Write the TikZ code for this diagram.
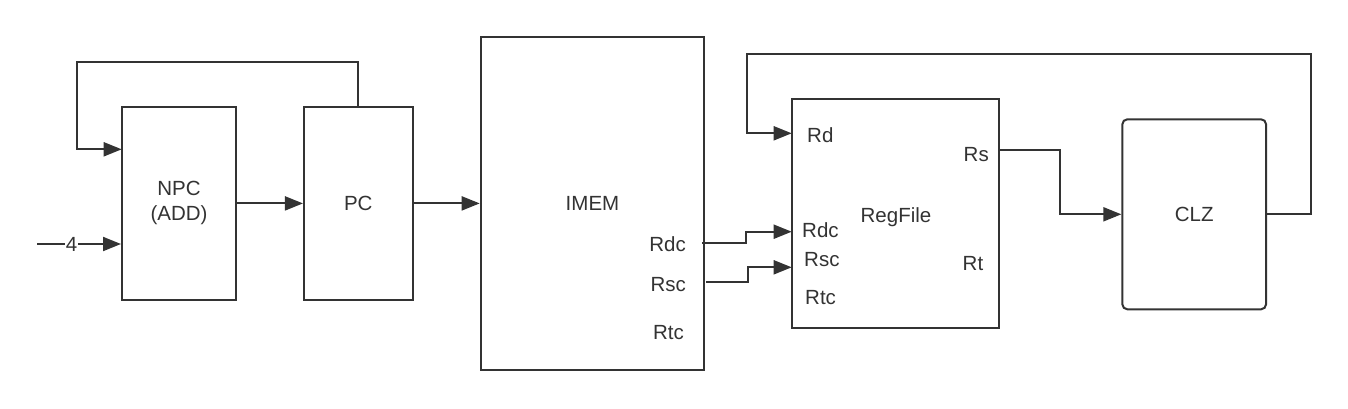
\documentclass[tikz,border=0pt]{standalone}
\usepackage{fontspec}
\setmainfont{Liberation Sans}
\usetikzlibrary{arrows.meta}
\definecolor{ink}{HTML}{333333}
\begin{document}
\begin{tikzpicture}[x=1pt,y=-1pt,
  blk/.style={draw=ink, line width=2pt, inner sep=0pt, text=ink, align=center},
  lbl/.style={text=ink, inner sep=0pt},
  arr/.style={draw=ink, line width=2pt, -{Triangle[length=18pt,width=14pt]}},
  wire/.style={draw=ink, line width=2pt},
  font=\fontsize{20.5}{25}\selectfont]
\useasboundingbox[fill=white] (0,0) rectangle (1348,408);
% blocks
\node[blk, minimum width=114pt, minimum height=193pt] (npc) at (179,203.4) {NPC\\(ADD)};
\node[blk, minimum width=108.7pt, minimum height=193pt] (pc) at (358.3,203.4) {PC};
\node[blk, minimum width=223.6pt, minimum height=332.7pt] (imem) at (592.5,203.7) {IMEM};
\node[blk, minimum width=207.3pt, minimum height=229pt] (rf) at (895.7,213.8) {};
\node[lbl] (rftxt) at (896,217) {RegFile};
\node[blk, rounded corners=5pt, minimum width=143.7pt, minimum height=190pt] (clz) at (1194.2,214.3) {CLZ};
% port labels
\node[lbl, anchor=east] (rdc) at (686,244) {Rdc};
\node[lbl, anchor=east] (rsc) at (686,285) {Rsc};
\node[lbl, anchor=east] (rtc) at (684,333) {Rtc};
\node[lbl, anchor=west] (rd) at (807,135) {Rd};
\node[lbl, anchor=west] (rdcin) at (802,230.5) {Rdc};
\node[lbl, anchor=west] (rscin) at (804,260) {Rsc};
\node[lbl, anchor=west] (rtcin) at (805,298) {Rtc};
\node[lbl, anchor=west] (rs) at (963.5,155) {Rs};
\node[lbl, anchor=west] (rt) at (962.5,263.3) {Rt};
% coordinates
\coordinate (fourin) at (37.3,244);
\coordinate (npcloopA) at (358.3,61.7);
\coordinate (npcloopB) at (76.7,61.7);
\coordinate (npcin) at (121.7,149.3);
\coordinate (rdcout) at (702,243.3);
\coordinate (rdcjog) at (746,243.3);
\coordinate (rdcend) at (791.7,231.7);
\coordinate (rscout) at (706,281.7);
\coordinate (rscjog) at (748.3,281.7);
\coordinate (rscend) at (791.7,267.3);
\coordinate (rsout) at (999.3,150);
\coordinate (rsjog) at (1060,150);
\coordinate (clzout) at (1266,214.3);
\coordinate (loopR) at (1311,214.3);
\coordinate (loopTR) at (1311,54.3);
\coordinate (loopTL) at (746.7,54.3);
\coordinate (rdend) at (791.7,133.3);
% connectors
\draw[arr] (npc.east) -- (pc.west);
\draw[arr] (pc.east) -- (pc.east -| imem.west);
\draw[arr] (pc.north) -- (npcloopA) -- (npcloopB) |- (npcin);
\draw[arr] (fourin) -- node[pos=0.41, fill=white, inner sep=1pt, text=ink] (four) {4} (fourin -| npc.west);
\draw[arr] (rdcout) -- (rdcjog) |- (rdcend);
\draw[arr] (rscout) -- (rscjog) |- (rscend);
\draw[arr] (rsout) -- (rsjog) |- (clz.west);
\draw[arr] (clzout) -- (loopR) -- (loopTR) -- (loopTL) |- (rdend);
\end{tikzpicture}
\end{document}
